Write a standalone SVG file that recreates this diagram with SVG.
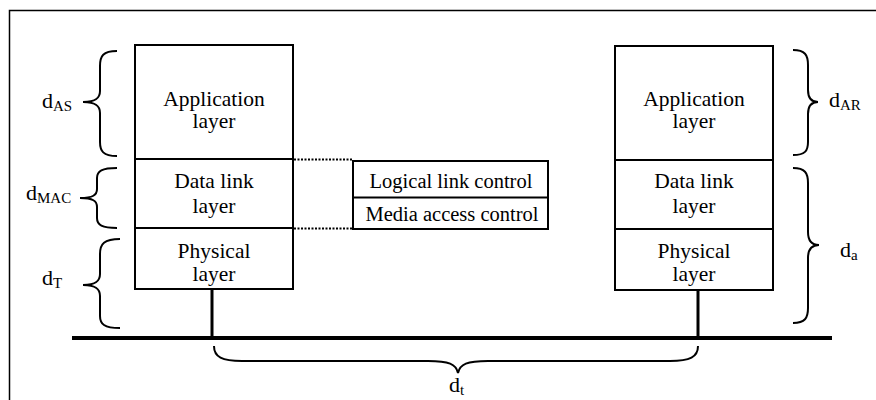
<svg xmlns="http://www.w3.org/2000/svg" width="876" height="400" viewBox="0 0 876 400">
<style>
text{font-family:"Liberation Serif","Times New Roman",serif;fill:#000}
.t{font-size:21.5px;text-anchor:middle}
.m{font-size:20.5px;text-anchor:middle}
.l{font-size:22px}
.s{font-size:15px}
.box{fill:#fff;stroke:#000;stroke-width:2}
.div{stroke:#000;stroke-width:2}
.br{fill:none;stroke:#000;stroke-width:2}
.dot{stroke:#000;stroke-width:2;stroke-dasharray:2 1.5}
</style>
<rect width="876" height="400" fill="#fff"/>
<g id="frame">
<path d="M9.5,400 V10.5 H876" fill="none" stroke="#000" stroke-width="1.5"/>
</g>
<g id="connectors">
<line x1="72" y1="338" x2="832" y2="338" stroke="#000" stroke-width="4"/>
<line x1="212" y1="289" x2="212" y2="338" stroke="#000" stroke-width="3"/>
<line x1="698" y1="290" x2="698" y2="338" stroke="#000" stroke-width="3"/>
<line class="dot" x1="294" y1="159.5" x2="353" y2="159.5"/>
<line class="dot" x1="294" y1="228.5" x2="353" y2="228.5"/>
</g>
<g id="left-stack">
<rect class="box" x="135" y="45" width="158" height="244"/>
<line class="div" x1="135" y1="159" x2="293" y2="159"/>
<line class="div" x1="135" y1="228" x2="293" y2="228"/>
<text class="t" x="214" y="106">Application</text>
<text class="t" x="214" y="128">layer</text>
<text class="t" x="214" y="188">Data link</text>
<text class="t" x="214" y="213">layer</text>
<text class="t" x="214" y="258">Physical</text>
<text class="t" x="214" y="281">layer</text>
</g>
<g id="right-stack">
<rect class="box" x="615" y="46" width="158" height="244"/>
<line class="div" x1="615" y1="160" x2="773" y2="160"/>
<line class="div" x1="615" y1="229" x2="773" y2="229"/>
<text class="t" x="694" y="106">Application</text>
<text class="t" x="694" y="128">layer</text>
<text class="t" x="694" y="188">Data link</text>
<text class="t" x="694" y="213">layer</text>
<text class="t" x="694" y="258">Physical</text>
<text class="t" x="694" y="281">layer</text>
</g>
<g id="sublayers">
<rect class="box" x="353" y="161" width="195" height="68"/>
<line class="div" x1="353" y1="197.5" x2="548" y2="197.5"/>
<text class="m" x="451" y="188">Logical link control</text>
<text class="m" x="452" y="221">Media access control</text>
</g>
<g id="brace-dAS">
<path class="br" d="M117,51 C103,51 100,56 100,66 L100,91 C100,98 96,102 83,102 C96,102 100,106 100,113 L100,142 C100,151 103,156 117,156"/>
<text class="l" x="42" y="108">d<tspan class="s" dy="3">AS</tspan></text>
</g>
<g id="brace-dMAC">
<path class="br" d="M117,168 C102,168 97,171 97,178 L97,189 C97,195 93,198 80,198 C93,198 97,201 97,207 L97,218 C97,225 102,228 117,228"/>
<text class="l" x="26" y="200">d<tspan class="s" dy="3">MAC</tspan></text>
</g>
<g id="brace-dT">
<path class="br" d="M120,239 C104,239 100,244 100,254 L100,274 C100,281 96,285 83,285 C96,285 100,289 100,296 L100,316 C100,324 104,328 120,328"/>
<text class="l" x="42" y="285">d<tspan class="s" dy="3">T</tspan></text>
</g>
<g id="brace-dAR">
<path class="br" d="M793,50 C805,50 808,55 808,65 L808,90 C808,98 811,102 818,102 C811,102 808,106 808,114 L808,142 C808,151 805,155 793,155"/>
<text class="l" x="829" y="107">d<tspan class="s" dy="3">AR</tspan></text>
</g>
<g id="brace-da">
<path class="br" d="M793,168 C805,168 808,173 808,183 L808,232 C808,240 811,245 819,245 C811,245 808,250 808,258 L808,308 C808,318 805,323 793,323"/>
<text class="l" x="840" y="257">d<tspan class="s" dy="3">a</tspan></text>
</g>
<g id="brace-dt">
<path class="br" d="M214,346 C214,357 222,361 242,361 L428,361 C449,361 456,364 458,373 C460,364 467,361 488,361 L670,361 C690,361 698,357 698,346"/>
<text class="l" x="449" y="392">d<tspan class="s" dy="3">t</tspan></text>
</g>
</svg>
